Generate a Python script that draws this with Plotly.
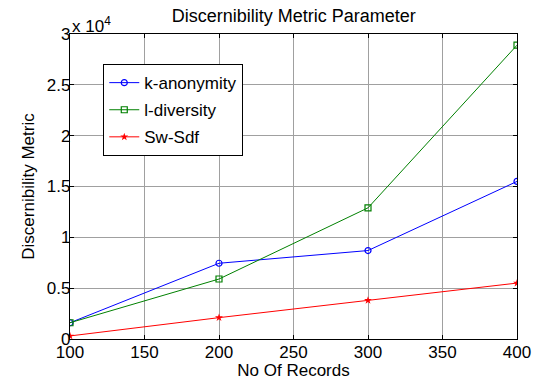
import plotly.graph_objects as go

records = [100, 200, 300, 400]
k_anonymity = [1600, 7450, 8700, 15500]
l_diversity = [1600, 5900, 12900, 28900]
sw_sdf = [300, 2100, 3800, 5500]

y_tickvals = [0, 5000, 10000, 15000, 20000, 25000, 30000]
y_ticktext = ["0", "0.5", "1", "1.5", "2", "2.5", "3"]
x_tickvals = [100, 150, 200, 250, 300, 350, 400]

font = "Liberation Sans, Arial, sans-serif"
fs = 17

fig = go.Figure()
fig.add_trace(go.Scatter(x=records, y=k_anonymity, name="k-anonymity", mode="lines+markers",
                         legendgroup="a",
                         line=dict(color="#0000ff", width=1),
                         marker=dict(symbol="circle-open", size=6, color="#0000ff", line=dict(width=1.2))))
fig.add_trace(go.Scatter(x=records, y=l_diversity, name="l-diversity", mode="lines+markers",
                         legendgroup="b",
                         line=dict(color="#008000", width=1),
                         marker=dict(symbol="square-open", size=6, color="#008000", line=dict(width=1.2))))
fig.add_trace(go.Scatter(x=records, y=sw_sdf, name="Sw-Sdf", mode="lines+markers",
                         legendgroup="c",
                         line=dict(color="#ff0000", width=1),
                         marker=dict(symbol="star", size=6, color="#ff0000")))

axis_common = dict(showline=True, linecolor="black", linewidth=1.2, mirror="ticks",
                   ticks="inside", ticklen=4, tickcolor="black", automargin=False,
                   showgrid=True, gridcolor="#a0a0a0", gridwidth=1,
                   zeroline=False, tickfont=dict(size=fs, color="black", family=font))

fig.update_xaxes(range=[100, 400], tickvals=x_tickvals, ticklabelstandoff=-3,
                 title=dict(text="No Of Records", font=dict(size=fs, color="black", family=font), standoff=0),
                 **axis_common)
fig.update_yaxes(range=[0, 30000], tickvals=y_tickvals, ticktext=y_ticktext, ticklabelstandoff=-5,
                 title=dict(text="Discernibility Metric", font=dict(size=fs, color="black", family=font), standoff=7),
                 **axis_common)

fig.update_layout(
    width=539, height=381,
    margin=dict(l=70, r=22, t=34, b=42),
    paper_bgcolor="white", plot_bgcolor="white",
    title=dict(text="Discernibility Metric Parameter", x=0.545, xanchor="center", y=0.96, yanchor="middle",
               font=dict(size=18, color="black", family=font)),
    legend=dict(x=0.074, y=0.902, xanchor="left", yanchor="top", bgcolor="white",
                bordercolor="black", borderwidth=1.2,
                font=dict(size=fs, color="black", family=font), itemwidth=30, tracegroupgap=2),
    showlegend=True,
    annotations=[dict(text="x 10<sup>4</sup>", x=0, y=1.0, xref="paper", yref="paper",
                      xanchor="left", yanchor="bottom", showarrow=False, yshift=-4,
                      font=dict(size=fs, color="black", family=font))],
)

fig.write_html("out.html", config={"displayModeBar": False},
               post_script="document.body.style.margin='0';document.body.style.overflow='hidden';")
